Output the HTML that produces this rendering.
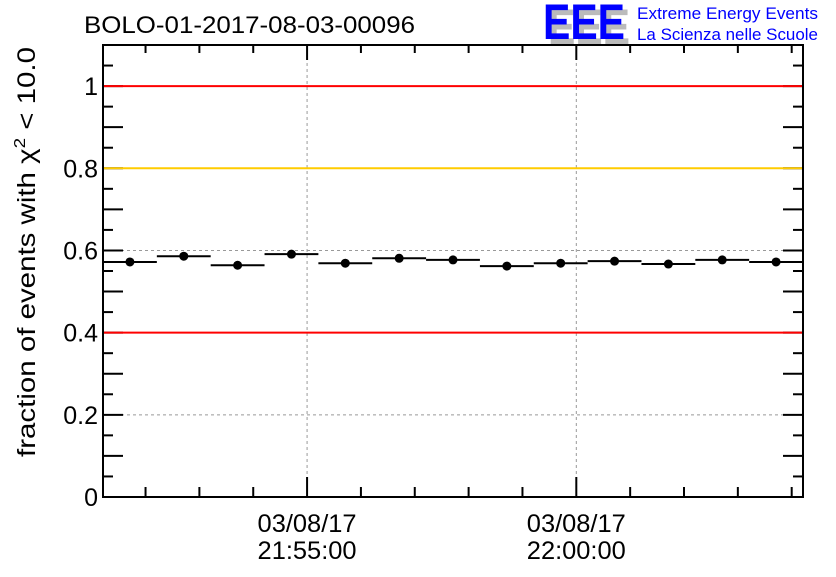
<!DOCTYPE html>
<html><head><meta charset="utf-8"><style>
body{margin:0;background:#fff;width:836px;height:572px;overflow:hidden}
svg text{font-family:"Liberation Sans",sans-serif}
</style></head><body>
<svg id="c" width="836" height="572">
<text x="84" y="33" font-size="24" textLength="331" lengthAdjust="spacingAndGlyphs">BOLO-01-2017-08-03-00096</text>
<g>
<text x="548" y="44" font-size="50" font-weight="bold" fill="#bbb" textLength="82" lengthAdjust="spacingAndGlyphs">EEE</text>
<text x="543" y="39" font-size="50" font-weight="bold" fill="#0000ff" textLength="82" lengthAdjust="spacingAndGlyphs">EEE</text>
<text x="637" y="19" font-size="17" fill="#0000ff" textLength="181" lengthAdjust="spacingAndGlyphs">Extreme Energy Events</text>
<text x="637" y="40" font-size="17" fill="#0000ff" textLength="181" lengthAdjust="spacingAndGlyphs">La Scienza nelle Scuole</text>
</g>
<text transform="translate(35,252) rotate(-90)" font-size="25" text-anchor="middle" textLength="410" lengthAdjust="spacingAndGlyphs">fraction of events with χ<tspan dy="-10" font-size="16">2</tspan><tspan dy="10"> &lt; 10.0</tspan></text>
<g id="plot"></g>
</svg>
<script>
const binValues=[0.572,0.586,0.564,0.591,0.569,0.581,0.577,0.562,0.569,0.574,0.567,0.577,0.572];
const binStartMin=[0,1,2,3,4,5,6,7,8,9,10,11,12];
const yTicks=[0,0.2,0.4,0.6,0.8,1];
const yTickLabels=["0","0.2","0.4","0.6","0.8","1"];
const xMajorMin=[3.79,8.79];
const xMajorLabels=[["03/08/17","21:55:00"],["03/08/17","22:00:00"]];
const refLines=[1,0.8,0.4];
const refColors=["#ff0000","#ffcc00","#ff0000"];
const L=103,R=803,T=45,B=497,yMax=1.1,xMaxMin=13;
const sx=m=>L+m/xMaxMin*(R-L), sy=v=>B-v/yMax*(B-T);
const g=document.getElementById('plot');const NS="http://www.w3.org/2000/svg";
function mk(t,a,name){const e=document.createElementNS(NS,t);for(const k in a)e.setAttribute(k,a[k]);


g.appendChild(e);return e;}
// grid
xMajorMin.forEach(m=>mk('line',{x1:sx(m),x2:sx(m),y1:T,y2:B,stroke:'#999','stroke-dasharray':'3,3'},'x-gridline'));
yTicks.forEach(v=>{if(v>0&&v<1)mk('line',{x1:L,x2:R,y1:sy(v),y2:sy(v),stroke:'#999','stroke-dasharray':'3,3'},'y-gridline');});
// y ticks
for(let k=0;k<=22;k++){const v=k*0.05,len=k%2==0?20:10;
mk('line',{x1:L,x2:L+len,y1:sy(v),y2:sy(v),stroke:'#000','stroke-width':2},'y-tick');
mk('line',{x1:R-len,x2:R,y1:sy(v),y2:sy(v),stroke:'#000','stroke-width':2},'y-tick-right');}
refLines.forEach((v,i)=>mk('line',{x1:L,x2:R,y1:sy(v),y2:sy(v),stroke:refColors[i],'stroke-width':2},'reference-line'));
// frame
mk('rect',{x:L,y:T,width:R-L,height:B-T,fill:'none',stroke:'#000','stroke-width':2},'plot-frame');
yTicks.forEach((v,i)=>{const t=mk('text',{x:L-5,y:sy(v)+9,'font-size':25,'text-anchor':'end'},'y-tick-label');t.textContent=yTickLabels[i];});
// x ticks
for(let m=xMajorMin[0]-3;m<xMaxMin;m+=1){const major=xMajorMin.some(a=>Math.abs(a-m)<0.01),len=major?20:10;
mk('line',{x1:sx(m),x2:sx(m),y1:B,y2:B-len,stroke:'#000','stroke-width':2},'x-tick');
mk('line',{x1:sx(m),x2:sx(m),y1:T,y2:T+(major?15:8),stroke:'#000','stroke-width':2},'x-tick-top');}
xMajorMin.forEach((m,i)=>{xMajorLabels[i].forEach((s,j)=>{const t=mk('text',{x:sx(m),y:532+j*27,'font-size':25,'text-anchor':'middle',textLength:99,lengthAdjust:'spacingAndGlyphs'},'x-tick-label');t.textContent=s;});});
// data
binValues.forEach((v,i)=>{const x0=sx(binStartMin[i]),x1=sx(binStartMin[i]+1),y=sy(v);
mk('line',{x1:x0,x2:x1,y1:y,y2:y,stroke:'#000','stroke-width':2},'bin-errorbar');
mk('circle',{cx:(x0+x1)/2,cy:y,r:4.5,fill:'#000'},'data-point');});
</script>
</body></html>
